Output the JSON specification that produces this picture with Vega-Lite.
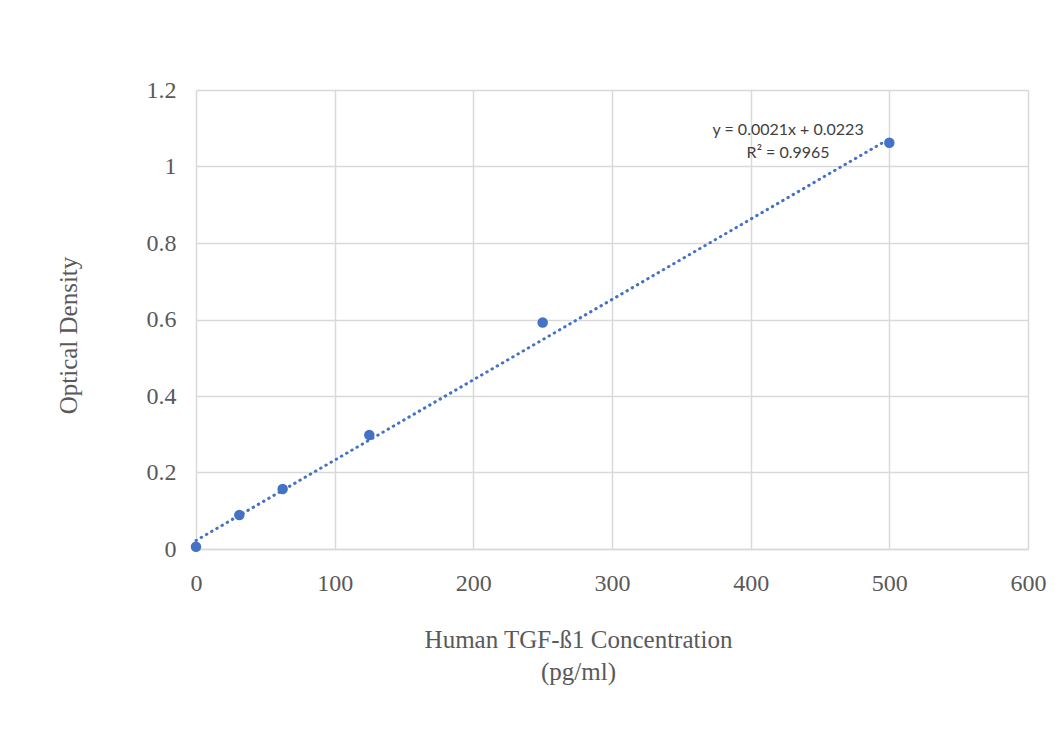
{
  "$schema": "https://vega.github.io/schema/vega-lite/v6.json",
  "autosize": "none",
  "width": 832,
  "height": 459,
  "padding": {"left": 196, "top": 90, "right": 31, "bottom": 198},
  "background": "white",
  "config": {"view": {"stroke": null}},
  "datasets": {
    "points": [
      {"conc": 0, "od": 0.006},
      {"conc": 31.25, "od": 0.089},
      {"conc": 62.5, "od": 0.157},
      {"conc": 125, "od": 0.298},
      {"conc": 250, "od": 0.592},
      {"conc": 500, "od": 1.062}
    ],
    "trend": [
      {"conc": 0, "od": 0.0223},
      {"conc": 500, "od": 1.0723}
    ],
    "labels": [
      {"conc": 427, "od": 1.095, "text": "y = 0.0021x + 0.0223"},
      {"conc": 427, "od": 1.035, "text": "R² = 0.9965"}
    ]
  },
  "encoding": {
    "x": {
      "field": "conc", "type": "quantitative",
      "scale": {"domain": [0, 600], "nice": false, "zero": false},
      "axis": {
        "values": [0, 100, 200, 300, 400, 500, 600],
        "title": ["Human TGF-ß1 Concentration", "(pg/ml)"],
        "titleFont": "Liberation Serif", "titleFontSize": 25, "titleFontWeight": "normal",
        "titleColor": "#595959", "titleLineHeight": 32,
        "titleX": 382, "titleY": 98, "titleAlign": "center", "titleBaseline": "alphabetic",
        "labelFont": "Liberation Serif", "labelFontSize": 24, "labelColor": "#595959",
        "labelPadding": 22, "labelFlush": false, "ticks": false,
        "domainColor": "#d9d9d9", "domainWidth": 1.5,
        "gridColor": "#d9d9d9", "gridWidth": 1.5
      }
    },
    "y": {
      "field": "od", "type": "quantitative",
      "scale": {"domain": [0, 1.2], "nice": false},
      "axis": {
        "values": [0, 0.2, 0.4, 0.6, 0.8, 1, 1.2],
        "labelExpr": "datum.value == 0 ? '0' : datum.value == 1 ? '1' : format(datum.value, '.1f')",
        "title": "Optical Density",
        "titleFont": "Liberation Serif", "titleFontSize": 25, "titleFontWeight": "normal",
        "titleColor": "#595959",
        "titleX": -128, "titleY": 245, "titleAlign": "center", "titleAngle": -90, "titleBaseline": "middle",
        "labelFont": "Liberation Serif", "labelFontSize": 24, "labelColor": "#595959",
        "labelPadding": 20, "labelFlush": false, "ticks": false, "domain": false,
        "gridColor": "#d9d9d9", "gridWidth": 1.5
      }
    }
  },
  "layer": [
    {
      "data": {"name": "trend"},
      "mark": {"type": "line", "color": "#4472C4", "strokeWidth": 3, "strokeDash": [0.5, 5.5], "strokeCap": "round"}
    },
    {
      "data": {"name": "points"},
      "mark": {"type": "point", "filled": true, "color": "#4472C4", "size": 110, "opacity": 1}
    },
    {
      "data": {"name": "labels"},
      "mark": {"type": "text", "font": "Lato", "fontSize": 16, "color": "#404040", "align": "center", "baseline": "middle"},
      "encoding": {"text": {"field": "text"}}
    }
  ]
}
